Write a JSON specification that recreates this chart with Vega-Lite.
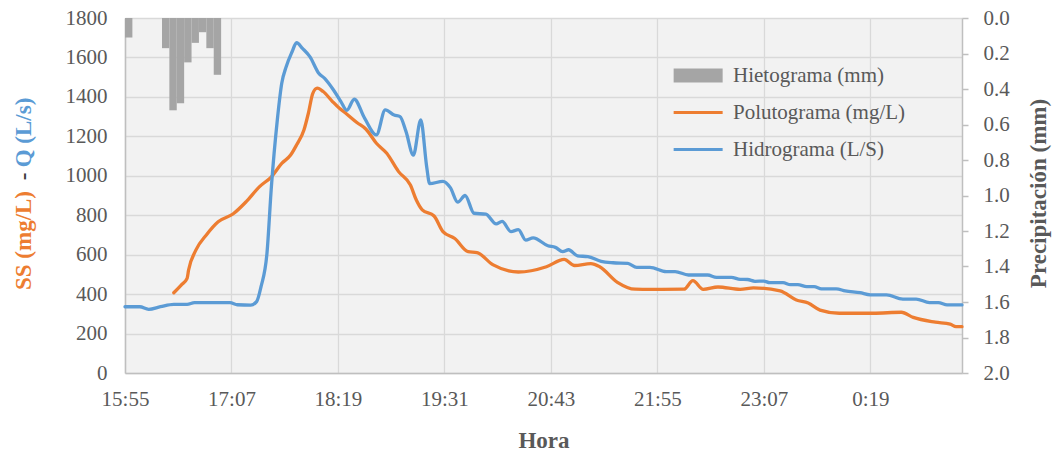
{
  "$schema": "https://vega.github.io/schema/vega-lite/v6.json",
  "width": 837,
  "height": 355,
  "autosize": {"type": "none"},
  "padding": {"left": 125, "top": 18, "right": 90, "bottom": 82},
  "background": "white",
  "config": {
    "view": {"fill": "#f2f2f2", "stroke": null},
    "font": "Liberation Serif",
    "axis": {
      "labelFont": "Liberation Serif",
      "labelFontSize": 21,
      "labelColor": "#595959",
      "titleFont": "Liberation Serif",
      "titleFontSize": 23,
      "titleFontWeight": "bold",
      "titleColor": "#595959",
      "domainColor": "#bfbfbf",
      "domainWidth": 1.5,
      "gridColor": "#d9d9d9",
      "gridWidth": 1.3,
      "tickColor": "#bfbfbf",
      "tickWidth": 1.5
    },
    "legend": {
      "labelFont": "Liberation Serif",
      "labelFontSize": 21,
      "labelColor": "#595959",
      "labelLimit": 400
    }
  },
  "datasets": {
    "lluvia": [
      {"inicio": "2020-01-01T15:55", "fin": "2020-01-01T16:00", "mm": 0.11},
      {"inicio": "2020-01-01T16:20", "fin": "2020-01-01T16:25", "mm": 0.17},
      {"inicio": "2020-01-01T16:25", "fin": "2020-01-01T16:30", "mm": 0.52},
      {"inicio": "2020-01-01T16:30", "fin": "2020-01-01T16:35", "mm": 0.48},
      {"inicio": "2020-01-01T16:35", "fin": "2020-01-01T16:40", "mm": 0.25},
      {"inicio": "2020-01-01T16:40", "fin": "2020-01-01T16:45", "mm": 0.14},
      {"inicio": "2020-01-01T16:45", "fin": "2020-01-01T16:50", "mm": 0.08},
      {"inicio": "2020-01-01T16:50", "fin": "2020-01-01T16:55", "mm": 0.17},
      {"inicio": "2020-01-01T16:55", "fin": "2020-01-01T17:00", "mm": 0.32}
    ],
    "ss": [
      {"hora": "2020-01-01T16:28", "ss": 407},
      {"hora": "2020-01-01T16:33", "ss": 446},
      {"hora": "2020-01-01T16:37", "ss": 480},
      {"hora": "2020-01-01T16:38", "ss": 522},
      {"hora": "2020-01-01T16:43", "ss": 624},
      {"hora": "2020-01-01T16:50", "ss": 700},
      {"hora": "2020-01-01T16:58", "ss": 767},
      {"hora": "2020-01-01T17:08", "ss": 806},
      {"hora": "2020-01-01T17:17", "ss": 869},
      {"hora": "2020-01-01T17:26", "ss": 945},
      {"hora": "2020-01-01T17:34", "ss": 995},
      {"hora": "2020-01-01T17:41", "ss": 1063},
      {"hora": "2020-01-01T17:47", "ss": 1105},
      {"hora": "2020-01-01T17:51", "ss": 1156},
      {"hora": "2020-01-01T17:56", "ss": 1232},
      {"hora": "2020-01-01T17:59", "ss": 1317},
      {"hora": "2020-01-01T18:02", "ss": 1418},
      {"hora": "2020-01-01T18:05", "ss": 1444},
      {"hora": "2020-01-01T18:09", "ss": 1427},
      {"hora": "2020-01-01T18:15", "ss": 1379},
      {"hora": "2020-01-01T18:20", "ss": 1342},
      {"hora": "2020-01-01T18:23", "ss": 1325},
      {"hora": "2020-01-01T18:32", "ss": 1269},
      {"hora": "2020-01-01T18:38", "ss": 1236},
      {"hora": "2020-01-01T18:45", "ss": 1165},
      {"hora": "2020-01-01T18:52", "ss": 1114},
      {"hora": "2020-01-01T19:00", "ss": 1021},
      {"hora": "2020-01-01T19:08", "ss": 953},
      {"hora": "2020-01-01T19:12", "ss": 877},
      {"hora": "2020-01-01T19:16", "ss": 827},
      {"hora": "2020-01-01T19:24", "ss": 796},
      {"hora": "2020-01-01T19:30", "ss": 717},
      {"hora": "2020-01-01T19:38", "ss": 682},
      {"hora": "2020-01-01T19:47", "ss": 615},
      {"hora": "2020-01-01T19:53", "ss": 610},
      {"hora": "2020-01-01T20:04", "ss": 548},
      {"hora": "2020-01-01T20:21", "ss": 512},
      {"hora": "2020-01-01T20:40", "ss": 539},
      {"hora": "2020-01-01T20:52", "ss": 576},
      {"hora": "2020-01-01T20:59", "ss": 545},
      {"hora": "2020-01-01T21:10", "ss": 555},
      {"hora": "2020-01-01T21:16", "ss": 539},
      {"hora": "2020-01-01T21:28", "ss": 460},
      {"hora": "2020-01-01T21:40", "ss": 425},
      {"hora": "2020-01-01T21:50", "ss": 424},
      {"hora": "2020-01-01T22:13", "ss": 425},
      {"hora": "2020-01-01T22:19", "ss": 468},
      {"hora": "2020-01-01T22:26", "ss": 424},
      {"hora": "2020-01-01T22:36", "ss": 436},
      {"hora": "2020-01-01T22:51", "ss": 424},
      {"hora": "2020-01-01T23:00", "ss": 432},
      {"hora": "2020-01-01T23:18", "ss": 416},
      {"hora": "2020-01-01T23:29", "ss": 370},
      {"hora": "2020-01-01T23:37", "ss": 355},
      {"hora": "2020-01-01T23:45", "ss": 319},
      {"hora": "2020-01-01T23:58", "ss": 303},
      {"hora": "2020-01-02T00:21", "ss": 303},
      {"hora": "2020-01-02T00:40", "ss": 308},
      {"hora": "2020-01-02T00:48", "ss": 282},
      {"hora": "2020-01-02T01:03", "ss": 258},
      {"hora": "2020-01-02T01:13", "ss": 248},
      {"hora": "2020-01-02T01:17", "ss": 235},
      {"hora": "2020-01-02T01:21", "ss": 235}
    ],
    "q": [
      {"hora": "2020-01-01T15:55", "q": 336},
      {"hora": "2020-01-01T16:05", "q": 336},
      {"hora": "2020-01-01T16:11", "q": 323},
      {"hora": "2020-01-01T16:19", "q": 336},
      {"hora": "2020-01-01T16:28", "q": 348},
      {"hora": "2020-01-01T16:37", "q": 348},
      {"hora": "2020-01-01T16:42", "q": 357},
      {"hora": "2020-01-01T17:06", "q": 357},
      {"hora": "2020-01-01T17:11", "q": 346},
      {"hora": "2020-01-01T17:20", "q": 344},
      {"hora": "2020-01-01T17:24", "q": 362},
      {"hora": "2020-01-01T17:27", "q": 438},
      {"hora": "2020-01-01T17:31", "q": 607},
      {"hora": "2020-01-01T17:34", "q": 945},
      {"hora": "2020-01-01T17:38", "q": 1283},
      {"hora": "2020-01-01T17:41", "q": 1469},
      {"hora": "2020-01-01T17:44", "q": 1553},
      {"hora": "2020-01-01T17:48", "q": 1629},
      {"hora": "2020-01-01T17:51", "q": 1675},
      {"hora": "2020-01-01T17:55", "q": 1646},
      {"hora": "2020-01-01T18:00", "q": 1604},
      {"hora": "2020-01-01T18:06", "q": 1520},
      {"hora": "2020-01-01T18:10", "q": 1494},
      {"hora": "2020-01-01T18:16", "q": 1435},
      {"hora": "2020-01-01T18:21", "q": 1376},
      {"hora": "2020-01-01T18:25", "q": 1332},
      {"hora": "2020-01-01T18:30", "q": 1388},
      {"hora": "2020-01-01T18:37", "q": 1292},
      {"hora": "2020-01-01T18:45", "q": 1207},
      {"hora": "2020-01-01T18:51", "q": 1334},
      {"hora": "2020-01-01T18:57", "q": 1308},
      {"hora": "2020-01-01T19:01", "q": 1300},
      {"hora": "2020-01-01T19:05", "q": 1225},
      {"hora": "2020-01-01T19:10", "q": 1105},
      {"hora": "2020-01-01T19:15", "q": 1283},
      {"hora": "2020-01-01T19:19", "q": 1046},
      {"hora": "2020-01-01T19:21", "q": 960},
      {"hora": "2020-01-01T19:30", "q": 972},
      {"hora": "2020-01-01T19:35", "q": 940},
      {"hora": "2020-01-01T19:40", "q": 866},
      {"hora": "2020-01-01T19:45", "q": 900},
      {"hora": "2020-01-01T19:51", "q": 810},
      {"hora": "2020-01-01T19:59", "q": 805},
      {"hora": "2020-01-01T20:06", "q": 756},
      {"hora": "2020-01-01T20:10", "q": 769},
      {"hora": "2020-01-01T20:16", "q": 717},
      {"hora": "2020-01-01T20:21", "q": 727},
      {"hora": "2020-01-01T20:26", "q": 674},
      {"hora": "2020-01-01T20:31", "q": 685},
      {"hora": "2020-01-01T20:41", "q": 645},
      {"hora": "2020-01-01T20:46", "q": 637},
      {"hora": "2020-01-01T20:51", "q": 615},
      {"hora": "2020-01-01T20:55", "q": 625},
      {"hora": "2020-01-01T21:01", "q": 594},
      {"hora": "2020-01-01T21:08", "q": 590},
      {"hora": "2020-01-01T21:17", "q": 566},
      {"hora": "2020-01-01T21:25", "q": 559},
      {"hora": "2020-01-01T21:35", "q": 556},
      {"hora": "2020-01-01T21:41", "q": 536},
      {"hora": "2020-01-01T21:50", "q": 536},
      {"hora": "2020-01-01T22:01", "q": 514},
      {"hora": "2020-01-01T22:07", "q": 514},
      {"hora": "2020-01-01T22:16", "q": 497},
      {"hora": "2020-01-01T22:29", "q": 497},
      {"hora": "2020-01-01T22:35", "q": 485},
      {"hora": "2020-01-01T22:45", "q": 485},
      {"hora": "2020-01-01T22:51", "q": 475},
      {"hora": "2020-01-01T22:56", "q": 474},
      {"hora": "2020-01-01T23:01", "q": 465},
      {"hora": "2020-01-01T23:07", "q": 466},
      {"hora": "2020-01-01T23:11", "q": 458},
      {"hora": "2020-01-01T23:20", "q": 458},
      {"hora": "2020-01-01T23:25", "q": 448},
      {"hora": "2020-01-01T23:30", "q": 448},
      {"hora": "2020-01-01T23:36", "q": 438},
      {"hora": "2020-01-01T23:41", "q": 438},
      {"hora": "2020-01-01T23:46", "q": 427},
      {"hora": "2020-01-01T23:56", "q": 427},
      {"hora": "2020-01-02T00:02", "q": 416},
      {"hora": "2020-01-02T00:12", "q": 407},
      {"hora": "2020-01-02T00:19", "q": 396},
      {"hora": "2020-01-02T00:30", "q": 396},
      {"hora": "2020-01-02T00:41", "q": 375},
      {"hora": "2020-01-02T00:50", "q": 375},
      {"hora": "2020-01-02T00:59", "q": 357},
      {"hora": "2020-01-02T01:05", "q": 357},
      {"hora": "2020-01-02T01:11", "q": 345},
      {"hora": "2020-01-02T01:21", "q": 345}
    ]
  },
  "layer": [
    {
      "data": {"name": "lluvia"},
      "mark": {"type": "bar", "stroke": null},
      "encoding": {
        "x": {
          "field": "inicio",
          "type": "temporal",
          "scale": {
            "domain": [
              {"year": 2020, "month": 1, "date": 1, "hours": 15, "minutes": 55},
              {"year": 2020, "month": 1, "date": 2, "hours": 1, "minutes": 21}
            ]
          },
          "axis": {
            "values": [
              {"year": 2020, "month": 1, "date": 1, "hours": 15, "minutes": 55},
              {"year": 2020, "month": 1, "date": 1, "hours": 17, "minutes": 7},
              {"year": 2020, "month": 1, "date": 1, "hours": 18, "minutes": 19},
              {"year": 2020, "month": 1, "date": 1, "hours": 19, "minutes": 31},
              {"year": 2020, "month": 1, "date": 1, "hours": 20, "minutes": 43},
              {"year": 2020, "month": 1, "date": 1, "hours": 21, "minutes": 55},
              {"year": 2020, "month": 1, "date": 1, "hours": 23, "minutes": 7},
              {"year": 2020, "month": 1, "date": 2, "hours": 0, "minutes": 19}
            ],
            "format": "%-H:%M",
            "grid": true,
            "ticks": false,
            "labelPadding": 15,
            "labelFlush": false,
            "labelOverlap": false,
            "title": "Hora",
            "titleY": 67,
            "titleBaseline": "middle"
          }
        },
        "x2": {"field": "fin"},
        "y": {
          "field": "mm",
          "type": "quantitative",
          "scale": {"domain": [0, 2], "reverse": true, "nice": false, "zero": true},
          "axis": {
            "orient": "right",
            "values": [0, 0.2, 0.4, 0.6, 0.8, 1.0, 1.2, 1.4, 1.6, 1.8, 2.0],
            "format": ".1f",
            "grid": false,
            "ticks": true,
            "tickSize": 6,
            "labelPadding": 15,
            "labelFlush": false,
            "title": "Precipitación (mm)",
            "titleAngle": 270,
            "titleX": 76,
            "titleY": 175,
            "titleAlign": "center",
            "titleBaseline": "middle"
          }
        },
        "y2": {"datum": 0},
        "color": {
          "datum": "Hietograma (mm)",
          "type": "nominal",
          "scale": {
            "domain": ["Hietograma (mm)", "Polutograma (mg/L)", "Hidrograma (L/S)"],
            "range": ["#a5a5a5", "#ed7d31", "#5b9bd5"]
          },
          "legend": {
            "title": null,
            "orient": "none",
            "legendX": 549,
            "legendY": 47,
            "padding": 0,
            "symbolSize": 196,
            "symbolStrokeWidth": 0,
            "symbolOpacity": 1,
            "symbolType": {"expr": "datum.value === 'Hietograma (mm)' ? 'M-1.55,-1L5.45,-1L5.45,1L-1.55,1Z' : 'M-1.55,-0.23L5.45,-0.23L5.45,0.23L-1.55,0.23Z'"},
            "labelOffset": 38,
            "rowPadding": 15
          }
        }
      }
    },
    {
      "data": {"name": "ss"},
      "mark": {"type": "line", "strokeWidth": 3.3, "interpolate": "monotone", "strokeCap": "round", "strokeJoin": "round"},
      "encoding": {
        "x": {"field": "hora", "type": "temporal"},
        "y": {
          "field": "ss",
          "type": "quantitative",
          "scale": {"domain": [0, 1800], "nice": false},
          "axis": {
            "orient": "left",
            "values": [0, 200, 400, 600, 800, 1000, 1200, 1400, 1600, 1800],
            "format": "d",
            "grid": true,
            "ticks": false,
            "labelPadding": 18,
            "labelFlush": false,
            "title": "SS (mg/L)",
            "titleColor": "#ed7d31",
            "titleAngle": 270,
            "titleX": -102,
            "titleY": 222,
            "titleAlign": "center",
            "titleBaseline": "middle"
          }
        },
        "color": {"datum": "Polutograma (mg/L)", "type": "nominal"}
      }
    },
    {
      "data": {"name": "q"},
      "mark": {"type": "line", "strokeWidth": 3.3, "interpolate": "monotone", "strokeCap": "round", "strokeJoin": "round"},
      "encoding": {
        "x": {"field": "hora", "type": "temporal"},
        "y": {
          "field": "q",
          "type": "quantitative",
          "scale": {"domain": [0, 1800], "nice": false},
          "axis": {
            "orient": "left",
            "labels": false,
            "ticks": false,
            "domain": false,
            "grid": false,
            "title": "Q (L/s)",
            "titleColor": "#5b9bd5",
            "titleAngle": 270,
            "titleX": -102,
            "titleY": 114,
            "titleAlign": "center",
            "titleBaseline": "middle"
          }
        },
        "color": {"datum": "Hidrograma (L/S)", "type": "nominal"}
      }
    },
    {
      "data": {"name": "q"},
      "mark": {"type": "line", "strokeWidth": 0, "opacity": 0},
      "encoding": {
        "x": {"field": "hora", "type": "temporal"},
        "y": {
          "field": "q",
          "type": "quantitative",
          "scale": {"domain": [0, 1800], "nice": false},
          "axis": {
            "orient": "left",
            "labels": false,
            "ticks": false,
            "domain": false,
            "grid": false,
            "title": "-",
            "titleColor": "#404040",
            "titleAngle": 270,
            "titleX": -102,
            "titleY": 158,
            "titleAlign": "center",
            "titleBaseline": "middle"
          }
        }
      }
    }
  ],
  "resolve": {"scale": {"y": "independent"}}
}
